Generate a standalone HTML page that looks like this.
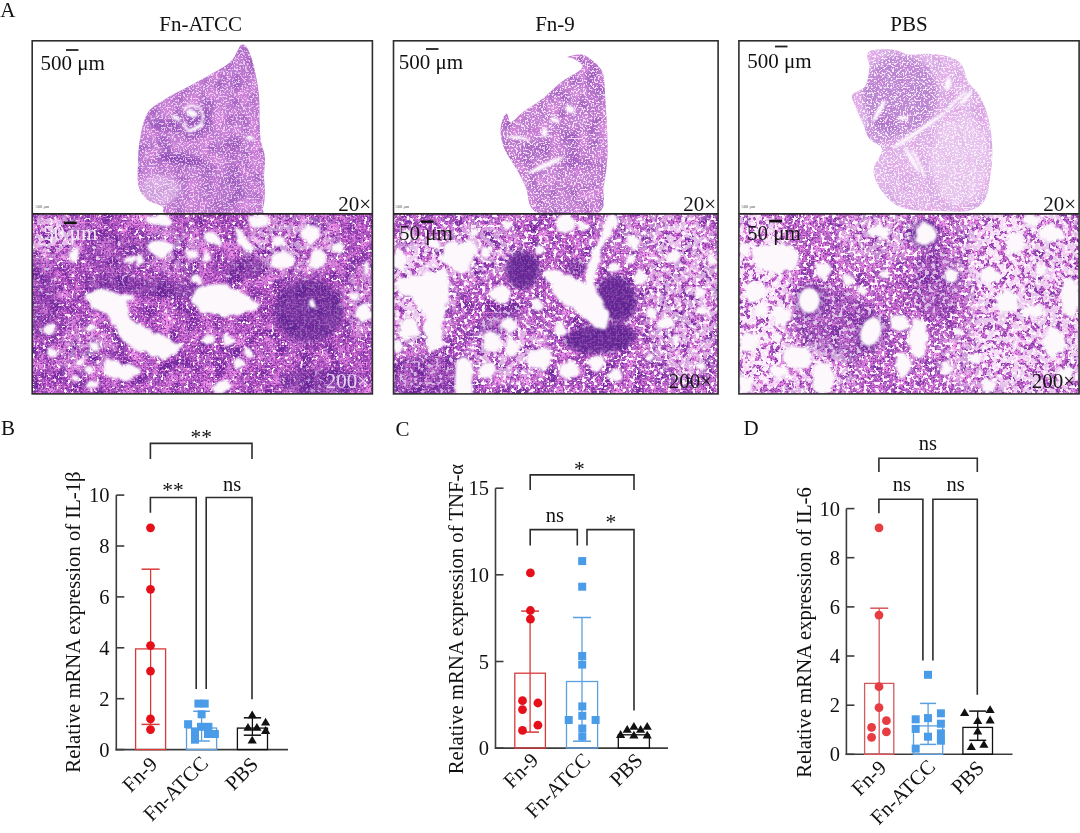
<!DOCTYPE html><html><head><meta charset="utf-8"><style>html,body{margin:0;padding:0;background:#fff;width:1080px;height:833px;overflow:hidden}svg{display:block}</style></head><body><svg width="1080" height="833" viewBox="0 0 1080 833" font-family='"Liberation Serif", serif'>
<rect width="1080" height="833" fill="#fff"/>
<defs>
<filter id="spkw" x="0" y="0" width="100%" height="100%" color-interpolation-filters="sRGB">
 <feTurbulence type="fractalNoise" baseFrequency="0.28" numOctaves="2" seed="3" result="n"/>
 <feColorMatrix in="n" type="matrix" values="0 0 0 0 1  0 0 0 0 0.97  0 0 0 0 1  24 0 0 0 -13.6"/>
</filter>
<filter id="spkl" x="0" y="0" width="100%" height="100%" color-interpolation-filters="sRGB">
 <feTurbulence type="fractalNoise" baseFrequency="0.55" numOctaves="2" seed="5" result="n"/>
 <feColorMatrix in="n" type="matrix" values="0 0 0 0 1  0 0 0 0 0.97  0 0 0 0 1  10 0 0 0 -5.2"/>
</filter>
<filter id="spkp" x="0" y="0" width="100%" height="100%" color-interpolation-filters="sRGB">
 <feTurbulence type="fractalNoise" baseFrequency="0.5" numOctaves="1" seed="11" result="n"/>
 <feColorMatrix in="n" type="matrix" values="0 0 0 0 0.96  0 0 0 0 0.56  0 0 0 0 0.9  8 0 0 0 -4.0"/>
</filter>
<filter id="spkd" x="0" y="0" width="100%" height="100%" color-interpolation-filters="sRGB">
 <feTurbulence type="fractalNoise" baseFrequency="0.6" numOctaves="1" seed="7" result="n"/>
 <feColorMatrix in="n" type="matrix" values="0 0 0 0 0.36  0 0 0 0 0.12  0 0 0 0 0.58  8 0 0 0 -4.2"/>
</filter>
<filter id="spkw2" x="0" y="0" width="100%" height="100%" color-interpolation-filters="sRGB">
 <feTurbulence type="fractalNoise" baseFrequency="0.16" numOctaves="2" seed="21" result="n"/>
 <feColorMatrix in="n" type="matrix" values="0 0 0 0 1  0 0 0 0 0.97  0 0 0 0 1  24 0 0 0 -11.3"/>
</filter>
<filter id="bl2" x="-50%" y="-50%" width="200%" height="200%"><feGaussianBlur stdDeviation="2.5"/></filter>
<filter id="disp" x="-10%" y="-10%" width="120%" height="120%" color-interpolation-filters="sRGB">
 <feTurbulence type="fractalNoise" baseFrequency="0.09" numOctaves="2" seed="4" result="t"/>
 <feDisplacementMap in="SourceGraphic" in2="t" scale="9" xChannelSelector="R" yChannelSelector="G" result="d"/>
 <feGaussianBlur in="d" stdDeviation="0.8"/>
</filter>
<filter id="blotd" x="0" y="0" width="100%" height="100%" color-interpolation-filters="sRGB">
 <feTurbulence type="fractalNoise" baseFrequency="0.07" numOctaves="2" seed="9" result="n"/>
 <feColorMatrix in="n" type="matrix" values="0 0 0 0 0.40  0 0 0 0 0.14  0 0 0 0 0.60  3.5 0 0 0 -1.55"/>
</filter>
<filter id="blotp" x="0" y="0" width="100%" height="100%" color-interpolation-filters="sRGB">
 <feTurbulence type="fractalNoise" baseFrequency="0.08" numOctaves="2" seed="13" result="n"/>
 <feColorMatrix in="n" type="matrix" values="0 0 0 0 0.94  0 0 0 0 0.58  0 0 0 0 0.92  3.5 0 0 0 -1.6"/>
</filter>
<filter id="spkw_0" x="0" y="0" width="100%" height="100%" color-interpolation-filters="sRGB">
 <feTurbulence type="fractalNoise" baseFrequency="0.28" numOctaves="2" seed="3" result="n"/>
 <feColorMatrix in="n" type="matrix" values="0 0 0 0 1  0 0 0 0 0.97  0 0 0 0 1  24 0 0 0 -15.6"/>
</filter>
<filter id="spkw_1" x="0" y="0" width="100%" height="100%" color-interpolation-filters="sRGB">
 <feTurbulence type="fractalNoise" baseFrequency="0.28" numOctaves="2" seed="3" result="n"/>
 <feColorMatrix in="n" type="matrix" values="0 0 0 0 1  0 0 0 0 0.97  0 0 0 0 1  24 0 0 0 -13.92"/>
</filter>
<filter id="spkw_2" x="0" y="0" width="100%" height="100%" color-interpolation-filters="sRGB">
 <feTurbulence type="fractalNoise" baseFrequency="0.28" numOctaves="2" seed="3" result="n"/>
 <feColorMatrix in="n" type="matrix" values="0 0 0 0 1  0 0 0 0 0.97  0 0 0 0 1  24 0 0 0 -13.56"/>
</filter>
<filter id="soft" x="0" y="0" width="100%" height="100%"><feGaussianBlur stdDeviation="0.6"/></filter>
<filter id="bl1" x="-50%" y="-50%" width="200%" height="200%"><feGaussianBlur stdDeviation="1"/></filter>
<filter id="bl6" x="-50%" y="-50%" width="200%" height="200%"><feGaussianBlur stdDeviation="7"/></filter>
<clipPath id="cl1"><path d="M240.8,45.3 C242.2,44.6 244.1,43.7 246.0,46.3 C247.9,48.9 250.3,53.3 252.4,61.0 C254.5,68.7 257.5,82.0 258.7,92.5 C259.9,103.0 259.3,115.9 259.7,124.0 C260.1,132.1 259.9,135.3 260.8,140.9 C261.7,146.5 264.5,151.8 265.0,157.7 C265.5,163.6 264.0,171.0 264.0,176.6 C264.0,182.2 265.2,186.1 265.0,191.3 C264.8,196.6 264.6,204.2 262.9,208.1 C261.1,211.9 269.6,213.3 254.5,214.4 C239.4,215.5 187.9,215.8 172.5,214.4 C157.1,213.0 166.2,208.4 162.0,206.0 C157.8,203.6 151.2,202.8 147.3,199.7 C143.5,196.5 140.5,192.7 138.9,187.1 C137.3,181.5 137.7,174.1 137.9,166.0 C138.1,157.9 138.4,147.6 140.0,138.8 C141.6,130.1 143.6,119.8 147.3,113.5 C151.0,107.2 155.7,105.2 162.0,101.0 C168.3,96.8 177.4,92.5 185.1,88.3 C192.8,84.1 200.9,79.9 208.3,75.7 C215.7,71.5 224.4,67.3 229.3,63.1 C234.2,58.9 235.8,53.5 237.7,50.5 C239.6,47.5 239.4,46.0 240.8,45.3 Z"/></clipPath>
<clipPath id="cl2"><path d="M567.7,56.8 C569.1,56.1 578.3,54.0 582.5,54.7 C586.7,55.4 590.2,58.9 593.0,61.0 C595.8,63.1 597.5,64.8 599.3,67.3 C601.0,69.8 602.5,69.8 603.5,75.7 C604.5,81.7 604.9,91.5 605.6,103.0 C606.3,114.5 607.5,134.5 607.7,145.0 C607.9,155.5 607.3,159.0 606.6,166.0 C605.9,173.0 605.1,179.2 603.5,187.0 C601.9,194.8 608.1,208.7 597.2,213.0 C586.3,217.3 550.2,217.3 538.3,213.0 C526.4,208.7 529.2,194.1 525.7,187.0 C522.2,179.9 520.8,176.6 517.3,170.3 C513.8,164.0 507.5,155.6 504.7,149.3 C501.9,143.0 500.9,137.4 500.5,132.5 C500.1,127.6 501.6,123.0 502.6,119.8 C503.7,116.6 505.4,113.1 506.8,113.5 C508.2,113.9 508.2,122.3 511.0,122.0 C513.8,121.7 518.4,115.3 523.6,111.4 C528.9,107.5 536.2,103.7 542.5,98.8 C548.8,93.9 555.4,86.5 561.4,82.0 C567.4,77.5 574.8,74.3 578.3,71.5 C581.8,68.7 583.2,67.3 582.5,65.2 C581.8,63.1 576.5,60.3 574.0,58.9 C571.5,57.5 566.3,57.5 567.7,56.8 Z"/></clipPath>
<clipPath id="cl3"><path d="M871.5,50.5 C875.7,49.3 886.2,48.8 892.5,49.5 C898.8,50.2 903.3,54.0 909.3,54.7 C915.3,55.4 921.6,53.4 928.3,53.7 C935.0,54.1 943.7,54.9 949.3,56.8 C954.9,58.7 958.8,61.0 961.9,65.2 C965.0,69.4 965.4,77.1 968.2,82.0 C971.0,86.9 975.6,89.3 978.7,94.6 C981.9,99.8 985.0,106.8 987.1,113.5 C989.2,120.2 990.4,127.6 991.3,134.6 C992.2,141.6 992.5,148.6 992.3,155.6 C992.1,162.6 991.4,169.2 990.2,176.6 C989.0,183.9 988.3,194.1 985.0,199.7 C981.7,205.3 976.9,208.3 970.3,210.2 C963.6,212.1 956.3,211.7 945.1,211.3 C933.9,211.0 913.5,211.4 903.0,208.1 C892.5,204.8 886.9,197.6 882.0,191.3 C877.1,185.0 873.6,177.3 873.6,170.3 C873.6,163.3 882.7,154.6 882.0,149.3 C881.3,144.1 872.5,143.0 869.4,138.8 C866.2,134.6 865.5,129.6 863.1,124.0 C860.7,118.4 856.5,110.0 854.7,105.1 C853.0,100.2 850.9,97.8 852.6,94.6 C854.4,91.4 862.4,90.8 865.2,86.2 C868.0,81.7 869.0,72.2 869.4,67.3 C869.8,62.4 866.9,59.6 867.3,56.8 C867.6,54.0 867.3,51.7 871.5,50.5 Z"/></clipPath>
<clipPath id="h1"><rect x="32" y="214" width="341" height="180"/></clipPath>
<clipPath id="h2"><rect x="393" y="214" width="325" height="180"/></clipPath>
<clipPath id="h3"><rect x="739" y="214" width="340" height="180"/></clipPath>
</defs>
<g clip-path="url(#cl1)"><rect x="0" y="40" width="1080" height="175" fill="#c27ed4"/><rect x="0" y="40" width="1080" height="175" filter="url(#blotd)" opacity="0.3"/><rect x="0" y="40" width="1080" height="175" filter="url(#blotp)" opacity="0.45"/><g filter="url(#bl2)"><ellipse cx="181.0" cy="160.0" rx="24" ry="5" transform="rotate(8 181.0 160.0)" fill="#8440b0" opacity="0.85"/><ellipse cx="165.0" cy="126.0" rx="16" ry="7" transform="rotate(10 165.0 126.0)" fill="#8440b0" opacity="0.6"/><ellipse cx="237.0" cy="82.0" rx="6" ry="10" transform="rotate(0 237.0 82.0)" fill="#8440b0" opacity="0.5"/><ellipse cx="198.0" cy="120.0" rx="14" ry="12" transform="rotate(0 198.0 120.0)" fill="#8440b0" opacity="0.6"/><ellipse cx="225.0" cy="185.0" rx="25" ry="18" transform="rotate(0 225.0 185.0)" fill="#8440b0" opacity="0.2"/><ellipse cx="232.0" cy="148.0" rx="8" ry="12" transform="rotate(0 232.0 148.0)" fill="#8440b0" opacity="0.4"/><ellipse cx="160.0" cy="190.0" rx="20" ry="15" transform="rotate(0 160.0 190.0)" fill="#f0d8f4" opacity="0.5"/></g><rect x="0" y="40" width="1080" height="175" filter="url(#spkl)" opacity="0.65"/><g filter="url(#bl1)"><ellipse cx="192.0" cy="113.5" rx="6" ry="3.5" transform="rotate(20 192.0 113.5)" fill="#fdf8fd" opacity="1"/><ellipse cx="196.0" cy="128.0" rx="9" ry="2" transform="rotate(-25 196.0 128.0)" fill="#fdf8fd" opacity="1"/><ellipse cx="176.0" cy="118.0" rx="5" ry="2" transform="rotate(30 176.0 118.0)" fill="#fdf8fd" opacity="1"/><ellipse cx="250.0" cy="138.0" rx="4" ry="2" transform="rotate(0 250.0 138.0)" fill="#fdf8fd" opacity="1"/><path d="M184,110 C188,104 198,104 202,112 C205,120 200,128 192,130 C186,131 183,126 186,122" fill="none" stroke="#fdf8fd" stroke-width="2.2"/></g></g>
<g clip-path="url(#cl2)"><rect x="0" y="40" width="1080" height="175" fill="#c482d4"/><rect x="0" y="40" width="1080" height="175" filter="url(#blotd)" opacity="0.3"/><rect x="0" y="40" width="1080" height="175" filter="url(#blotp)" opacity="0.45"/><g filter="url(#bl2)"><ellipse cx="574.0" cy="150.0" rx="6" ry="20" transform="rotate(0 574.0 150.0)" fill="#8440b0" opacity="0.4"/><ellipse cx="535.0" cy="150.0" rx="20" ry="8" transform="rotate(-20 535.0 150.0)" fill="#8440b0" opacity="0.3"/><ellipse cx="595.0" cy="90.0" rx="8" ry="20" transform="rotate(0 595.0 90.0)" fill="#8440b0" opacity="0.3"/></g><rect x="0" y="40" width="1080" height="175" filter="url(#spkl)" opacity="0.8"/><g filter="url(#bl1)"><ellipse cx="546.0" cy="165.0" rx="20" ry="2.5" transform="rotate(-25 546.0 165.0)" fill="#fdf8fd" opacity="1"/><ellipse cx="569.8" cy="109.3" rx="5" ry="3.5" transform="rotate(30 569.8 109.3)" fill="#fdf8fd" opacity="1"/><ellipse cx="544.6" cy="132.5" rx="3" ry="5" transform="rotate(0 544.6 132.5)" fill="#fdf8fd" opacity="1"/><ellipse cx="555.0" cy="120.0" rx="5" ry="2.5" transform="rotate(20 555.0 120.0)" fill="#fdf8fd" opacity="1"/><ellipse cx="517.0" cy="137.5" rx="9" ry="1.8" transform="rotate(5 517.0 137.5)" fill="#fdf8fd" opacity="1"/><path d="M506,137 C515,136 522,139 530,140" fill="none" stroke="#fdf8fd" stroke-width="1.8"/></g></g>
<g clip-path="url(#cl3)"><rect x="0" y="40" width="1080" height="175" fill="#e0b6ea"/><rect x="0" y="40" width="1080" height="175" filter="url(#blotd)" opacity="0.08"/><rect x="0" y="40" width="1080" height="175" filter="url(#blotp)" opacity="0.3"/><g filter="url(#bl2)"><ellipse cx="900.0" cy="95.0" rx="38" ry="40" transform="rotate(0 900.0 95.0)" fill="#8440b0" opacity="0.35"/><ellipse cx="880.0" cy="130.0" rx="15" ry="15" transform="rotate(0 880.0 130.0)" fill="#8440b0" opacity="0.25"/><ellipse cx="960.0" cy="160.0" rx="30" ry="45" transform="rotate(0 960.0 160.0)" fill="#f0d8f4" opacity="0.5"/></g><rect x="0" y="40" width="1080" height="175" filter="url(#spkl)" opacity="0.85"/><g filter="url(#bl1)"><ellipse cx="920.0" cy="130.0" rx="28" ry="2" transform="rotate(-35 920.0 130.0)" fill="#fdf8fd" opacity="1"/><ellipse cx="912.0" cy="160.0" rx="15" ry="2" transform="rotate(60 912.0 160.0)" fill="#fdf8fd" opacity="1"/><ellipse cx="948.0" cy="84.0" rx="3" ry="7" transform="rotate(10 948.0 84.0)" fill="#fdf8fd" opacity="1"/><ellipse cx="879.0" cy="111.0" rx="2.5" ry="13" transform="rotate(30 879.0 111.0)" fill="#fdf8fd" opacity="1"/><ellipse cx="903.0" cy="118.0" rx="6" ry="2" transform="rotate(0 903.0 118.0)" fill="#fdf8fd" opacity="1"/><ellipse cx="966.0" cy="98.0" rx="10" ry="2" transform="rotate(-50 966.0 98.0)" fill="#fdf8fd" opacity="1"/><path d="M893,148 C905,138 925,128 945,113 M912,150 C918,160 922,168 925,178 M946,112 C952,104 958,98 966,92" fill="none" stroke="#fdf8fd" stroke-width="2.4"/></g></g>
<mask id="wm0" maskUnits="userSpaceOnUse" x="32" y="214" width="341" height="180"><g filter="url(#bl6)"><ellipse cx="50" cy="235" rx="28" ry="20" fill="#fff" opacity="0.7"/><ellipse cx="290" cy="245" rx="50" ry="28" fill="#fff" opacity="0.5"/><ellipse cx="175" cy="250" rx="30" ry="20" fill="#fff" opacity="0.4"/><ellipse cx="85" cy="350" rx="28" ry="24" fill="#fff" opacity="0.35"/><ellipse cx="360" cy="300" rx="18" ry="35" fill="#fff" opacity="0.4"/></g></mask>
<g clip-path="url(#h1)"><g filter="url(#soft)"><rect x="32" y="214" width="341" height="180" fill="#b256c2"/><rect x="32" y="214" width="341" height="180" filter="url(#blotp)"/><rect x="32" y="214" width="341" height="180" filter="url(#blotd)" opacity="0.8"/><rect x="32" y="214" width="341" height="180" filter="url(#spkp)" opacity="0.85"/><rect x="32" y="214" width="341" height="180" filter="url(#spkd)" opacity="0.7"/><rect x="32" y="214" width="341" height="180" filter="url(#spkw_0)"/><rect x="32" y="214" width="341" height="180" filter="url(#spkw2)" mask="url(#wm0)"/><g filter="url(#bl2)"><ellipse cx="308.0" cy="311.0" rx="35" ry="32" transform="rotate(0 308.0 311.0)" fill="#5c2490" opacity="0.7"/><ellipse cx="245.0" cy="268.0" rx="22" ry="10" transform="rotate(-10 245.0 268.0)" fill="#5c2490" opacity="0.5"/><ellipse cx="150.0" cy="287.0" rx="70" ry="9" transform="rotate(5 150.0 287.0)" fill="#5c2490" opacity="0.45"/><ellipse cx="320.0" cy="382.0" rx="40" ry="14" transform="rotate(0 320.0 382.0)" fill="#5c2490" opacity="0.45"/><ellipse cx="115.0" cy="255.0" rx="30" ry="22" transform="rotate(0 115.0 255.0)" fill="#5c2490" opacity="0.2"/><ellipse cx="40.0" cy="300.0" rx="20" ry="40" transform="rotate(0 40.0 300.0)" fill="#5c2490" opacity="0.3"/></g><rect x="32" y="214" width="341" height="180" filter="url(#spkp)" opacity="0.25"/><g filter="url(#disp)"><path d="M86.0,294.0 C87.6,292.1 98.9,288.6 103.3,288.5 C107.7,288.4 119.1,291.9 122.7,292.9 C126.3,293.9 133.0,295.8 133.5,297.2 C134.0,298.6 127.5,302.5 127.0,304.7 C126.5,306.9 127.1,312.6 129.2,315.5 C131.3,318.4 139.9,325.8 144.3,328.5 C148.7,331.2 161.6,336.1 166.0,338.2 C170.4,340.3 179.7,343.9 181.0,345.8 C182.3,347.7 179.3,352.9 176.7,354.4 C174.1,355.9 163.6,359.0 159.5,358.7 C155.4,358.4 146.4,354.4 142.2,352.3 C138.0,350.2 128.3,344.6 124.9,341.5 C121.5,338.4 116.7,329.7 114.1,326.3 C111.5,322.9 106.2,316.0 103.3,313.4 C100.4,310.8 92.4,307.0 90.3,304.7 C88.2,302.4 84.4,295.9 86.0,294.0 Z" fill="#fcf8fc"/><path d="M192.0,298.0 C192.6,295.2 197.2,286.8 200.0,285.0 C202.8,283.2 210.9,282.4 215.0,283.0 C219.1,283.6 229.3,287.9 234.0,290.0 C238.7,292.1 250.6,298.5 254.0,300.5 C257.4,302.5 263.1,305.5 262.0,307.0 C260.9,308.5 249.6,312.0 245.0,313.0 C240.4,314.0 228.7,315.6 224.0,315.6 C219.3,315.6 209.5,314.3 206.0,313.4 C202.5,312.5 196.7,309.8 195.0,308.0 C193.3,306.2 191.4,300.8 192.0,298.0 Z" fill="#fcf8fc"/><path d="M104.0,364.0 C105.1,362.3 112.6,360.8 115.0,361.0 C117.4,361.2 121.7,365.5 124.0,366.0 C126.3,366.5 132.1,364.4 134.0,365.0 C135.9,365.6 140.2,369.4 140.0,371.0 C139.8,372.6 134.6,377.0 132.0,378.0 C129.4,379.0 121.1,379.4 118.0,379.0 C114.9,378.6 107.7,376.8 106.0,375.0 C104.3,373.2 102.9,365.7 104.0,364.0 Z" fill="#fcf8fc"/><ellipse cx="159.5" cy="248.6" rx="13" ry="8" transform="rotate(10 159.5 248.6)" fill="#fcf8fc" opacity="1"/><ellipse cx="160.0" cy="221.0" rx="13" ry="7" transform="rotate(0 160.0 221.0)" fill="#fcf8fc" opacity="1"/><ellipse cx="131.4" cy="259.4" rx="5" ry="4" transform="rotate(0 131.4 259.4)" fill="#fcf8fc" opacity="1"/><ellipse cx="140.0" cy="260.4" rx="4" ry="4" transform="rotate(0 140.0 260.4)" fill="#fcf8fc" opacity="1"/><ellipse cx="191.9" cy="252.9" rx="7" ry="5" transform="rotate(0 191.9 252.9)" fill="#fcf8fc" opacity="1"/><ellipse cx="196.0" cy="279.0" rx="5" ry="5" transform="rotate(0 196.0 279.0)" fill="#fcf8fc" opacity="1"/><ellipse cx="200.0" cy="296.0" rx="5" ry="6" transform="rotate(0 200.0 296.0)" fill="#fcf8fc" opacity="1"/><ellipse cx="48.2" cy="328.5" rx="6" ry="6" transform="rotate(0 48.2 328.5)" fill="#fcf8fc" opacity="1"/><ellipse cx="52.5" cy="352.3" rx="5" ry="5" transform="rotate(0 52.5 352.3)" fill="#fcf8fc" opacity="1"/><ellipse cx="92.5" cy="328.5" rx="5" ry="4" transform="rotate(0 92.5 328.5)" fill="#fcf8fc" opacity="1"/><ellipse cx="93.6" cy="345.8" rx="5" ry="4" transform="rotate(0 93.6 345.8)" fill="#fcf8fc" opacity="1"/><ellipse cx="81.7" cy="363.0" rx="5" ry="4" transform="rotate(0 81.7 363.0)" fill="#fcf8fc" opacity="1"/><ellipse cx="90.3" cy="369.5" rx="4" ry="4" transform="rotate(0 90.3 369.5)" fill="#fcf8fc" opacity="1"/><ellipse cx="75.2" cy="378.2" rx="4" ry="4" transform="rotate(0 75.2 378.2)" fill="#fcf8fc" opacity="1"/><ellipse cx="92.5" cy="384.7" rx="6" ry="5" transform="rotate(0 92.5 384.7)" fill="#fcf8fc" opacity="1"/><ellipse cx="75.0" cy="254.0" rx="4" ry="7" transform="rotate(30 75.0 254.0)" fill="#fcf8fc" opacity="1"/><ellipse cx="213.0" cy="239.0" rx="11" ry="5" transform="rotate(40 213.0 239.0)" fill="#fcf8fc" opacity="1"/><ellipse cx="243.0" cy="241.0" rx="5" ry="13" transform="rotate(-30 243.0 241.0)" fill="#fcf8fc" opacity="1"/><ellipse cx="259.0" cy="221.0" rx="12" ry="6" transform="rotate(0 259.0 221.0)" fill="#fcf8fc" opacity="1"/><ellipse cx="283.0" cy="261.0" rx="12" ry="9" transform="rotate(0 283.0 261.0)" fill="#fcf8fc" opacity="1"/><ellipse cx="310.0" cy="234.5" rx="9" ry="10" transform="rotate(0 310.0 234.5)" fill="#fcf8fc" opacity="1"/><ellipse cx="317.7" cy="259.3" rx="8" ry="11" transform="rotate(30 317.7 259.3)" fill="#fcf8fc" opacity="1"/><ellipse cx="208.0" cy="339.0" rx="6" ry="5" transform="rotate(0 208.0 339.0)" fill="#fcf8fc" opacity="1"/><ellipse cx="228.0" cy="340.5" rx="6" ry="5" transform="rotate(0 228.0 340.5)" fill="#fcf8fc" opacity="1"/><ellipse cx="249.6" cy="353.4" rx="5" ry="5" transform="rotate(0 249.6 353.4)" fill="#fcf8fc" opacity="1"/><ellipse cx="238.7" cy="363.2" rx="5" ry="5" transform="rotate(0 238.7 363.2)" fill="#fcf8fc" opacity="1"/><ellipse cx="221.5" cy="387.0" rx="10" ry="6" transform="rotate(0 221.5 387.0)" fill="#fcf8fc" opacity="1"/><ellipse cx="353.3" cy="297.2" rx="5" ry="4" transform="rotate(0 353.3 297.2)" fill="#fcf8fc" opacity="1"/><ellipse cx="364.0" cy="312.4" rx="8" ry="8" transform="rotate(0 364.0 312.4)" fill="#fcf8fc" opacity="1"/><ellipse cx="338.2" cy="247.5" rx="6" ry="5" transform="rotate(0 338.2 247.5)" fill="#fcf8fc" opacity="1"/><ellipse cx="278.7" cy="242.0" rx="5" ry="4" transform="rotate(0 278.7 242.0)" fill="#fcf8fc" opacity="1"/><ellipse cx="206.0" cy="257.0" rx="4" ry="4" transform="rotate(0 206.0 257.0)" fill="#fcf8fc" opacity="1"/><ellipse cx="312.2" cy="302.6" rx="4" ry="3" transform="rotate(0 312.2 302.6)" fill="#fcf8fc" opacity="1"/><ellipse cx="366.0" cy="268.0" rx="4" ry="6" transform="rotate(0 366.0 268.0)" fill="#fcf8fc" opacity="1"/></g><g filter="url(#bl1)"></g></g></g>
<mask id="wm1" maskUnits="userSpaceOnUse" x="393" y="214" width="325" height="180"><g filter="url(#bl6)"><ellipse cx="418" cy="292" rx="36" ry="55" fill="#fff" opacity="0.75"/><ellipse cx="685" cy="300" rx="42" ry="85" fill="#fff" opacity="0.55"/><ellipse cx="480" cy="250" rx="40" ry="30" fill="#fff" opacity="0.5"/><ellipse cx="510" cy="350" rx="40" ry="30" fill="#fff" opacity="0.6"/><ellipse cx="650" cy="230" rx="60" ry="20" fill="#fff" opacity="0.4"/></g></mask>
<g clip-path="url(#h2)"><g filter="url(#soft)"><rect x="393" y="214" width="325" height="180" fill="#b85ec6"/><rect x="393" y="214" width="325" height="180" filter="url(#blotp)"/><rect x="393" y="214" width="325" height="180" filter="url(#blotd)" opacity="0.8"/><rect x="393" y="214" width="325" height="180" filter="url(#spkp)" opacity="0.85"/><rect x="393" y="214" width="325" height="180" filter="url(#spkd)" opacity="0.65"/><rect x="393" y="214" width="325" height="180" filter="url(#spkw_1)"/><rect x="393" y="214" width="325" height="180" filter="url(#spkw2)" mask="url(#wm1)"/><g filter="url(#bl2)"><ellipse cx="522.7" cy="270.2" rx="17" ry="19" transform="rotate(0 522.7 270.2)" fill="#5c2490" opacity="0.9"/><ellipse cx="616.6" cy="298.3" rx="19" ry="24" transform="rotate(-20 616.6 298.3)" fill="#5c2490" opacity="0.9"/><ellipse cx="600.4" cy="338.3" rx="36" ry="15" transform="rotate(-5 600.4 338.3)" fill="#5c2490" opacity="0.9"/><ellipse cx="575.5" cy="268.0" rx="10" ry="10" transform="rotate(0 575.5 268.0)" fill="#5c2490" opacity="0.5"/><ellipse cx="428.0" cy="378.0" rx="42" ry="24" transform="rotate(0 428.0 378.0)" fill="#5c2490" opacity="0.3"/><ellipse cx="500.0" cy="320.0" rx="25" ry="12" transform="rotate(-30 500.0 320.0)" fill="#5c2490" opacity="0.3"/></g><rect x="393" y="214" width="325" height="180" filter="url(#spkp)" opacity="0.25"/><g filter="url(#disp)"><path d="M444.9,244.3 C448.5,242.5 469.4,240.5 473.0,242.0 C476.6,243.5 476.1,253.6 475.1,257.2 C474.1,260.8 467.1,271.1 464.3,272.4 C461.5,273.7 454.0,269.8 451.4,268.0 C448.8,266.2 443.5,260.0 442.7,257.2 C441.9,254.4 441.3,246.1 444.9,244.3 Z" fill="#fcf8fc"/><path d="M397.3,278.9 C398.9,276.6 409.2,275.5 414.6,274.5 C420.0,273.5 438.3,268.9 442.7,270.2 C447.1,271.5 450.9,281.1 451.4,285.3 C451.9,289.5 448.3,299.9 447.0,304.8 C445.7,309.7 440.9,321.7 440.6,326.4 C440.3,331.1 445.9,341.1 444.9,343.7 C443.9,346.3 434.2,348.8 431.9,348.0 C429.6,347.2 426.4,340.8 425.4,337.2 C424.4,333.6 424.3,322.2 423.3,317.8 C422.3,313.4 419.4,303.4 416.8,300.5 C414.2,297.6 403.9,296.6 401.6,294.0 C399.3,291.4 395.7,281.2 397.3,278.9 Z" fill="#fcf8fc"/><path d="M543.0,272.0 C543.2,269.4 552.0,269.9 555.0,270.2 C558.0,270.5 564.6,272.9 568.0,274.5 C571.4,276.1 580.8,284.2 583.1,283.2 C585.4,282.2 585.8,270.6 587.4,265.9 C589.0,261.2 594.0,249.0 596.1,244.3 C598.2,239.6 602.9,230.6 604.7,227.0 C606.5,223.4 609.6,214.8 611.2,214.0 C612.8,213.2 617.7,218.2 617.7,220.5 C617.7,222.8 613.0,230.4 611.2,233.5 C609.4,236.6 604.2,242.3 602.6,246.4 C601.0,250.5 599.0,263.1 598.2,268.0 C597.4,272.9 595.3,283.1 596.1,287.5 C596.9,291.9 603.2,301.2 604.7,304.8 C606.2,308.4 608.7,315.2 609.0,317.8 C609.3,320.4 608.4,325.4 606.9,326.4 C605.4,327.4 599.2,327.7 596.1,326.4 C593.0,325.1 584.6,318.2 581.0,315.6 C577.4,313.0 569.2,307.6 565.8,304.8 C562.4,302.0 555.7,295.9 553.0,292.0 C550.3,288.1 542.8,274.6 543.0,272.0 Z" fill="#fcf8fc"/><path d="M457.0,362.0 C458.7,357.9 468.2,356.2 470.0,360.0 C471.8,363.8 473.7,389.9 472.0,394.0 C470.3,398.1 457.8,397.8 456.0,394.0 C454.2,390.2 455.3,366.1 457.0,362.0 Z" fill="#fcf8fc"/><ellipse cx="399.0" cy="260.0" rx="7" ry="10" transform="rotate(0 399.0 260.0)" fill="#fcf8fc" opacity="1"/><ellipse cx="409.0" cy="328.6" rx="10" ry="10" transform="rotate(0 409.0 328.6)" fill="#fcf8fc" opacity="1"/><ellipse cx="397.0" cy="346.0" rx="6" ry="7" transform="rotate(0 397.0 346.0)" fill="#fcf8fc" opacity="1"/><ellipse cx="434.0" cy="342.6" rx="8" ry="8" transform="rotate(0 434.0 342.6)" fill="#fcf8fc" opacity="1"/><ellipse cx="500.0" cy="294.0" rx="10" ry="9" transform="rotate(0 500.0 294.0)" fill="#fcf8fc" opacity="1"/><ellipse cx="537.8" cy="304.8" rx="7" ry="6" transform="rotate(0 537.8 304.8)" fill="#fcf8fc" opacity="1"/><ellipse cx="509.7" cy="325.3" rx="8" ry="7" transform="rotate(0 509.7 325.3)" fill="#fcf8fc" opacity="1"/><ellipse cx="492.4" cy="341.5" rx="9" ry="11" transform="rotate(0 492.4 341.5)" fill="#fcf8fc" opacity="1"/><ellipse cx="511.9" cy="348.0" rx="7" ry="9" transform="rotate(0 511.9 348.0)" fill="#fcf8fc" opacity="1"/><ellipse cx="540.0" cy="358.8" rx="13" ry="11" transform="rotate(0 540.0 358.8)" fill="#fcf8fc" opacity="1"/><ellipse cx="488.0" cy="369.6" rx="9" ry="8" transform="rotate(0 488.0 369.6)" fill="#fcf8fc" opacity="1"/><ellipse cx="540.0" cy="248.6" rx="5" ry="5" transform="rotate(0 540.0 248.6)" fill="#fcf8fc" opacity="1"/><ellipse cx="433.0" cy="243.2" rx="6" ry="6" transform="rotate(0 433.0 243.2)" fill="#fcf8fc" opacity="1"/><ellipse cx="475.1" cy="232.4" rx="5" ry="5" transform="rotate(0 475.1 232.4)" fill="#fcf8fc" opacity="1"/><ellipse cx="506.5" cy="225.9" rx="5" ry="5" transform="rotate(0 506.5 225.9)" fill="#fcf8fc" opacity="1"/><ellipse cx="566.0" cy="224.0" rx="10" ry="9" transform="rotate(0 566.0 224.0)" fill="#fcf8fc" opacity="1"/><ellipse cx="582.0" cy="227.0" rx="5" ry="4" transform="rotate(0 582.0 227.0)" fill="#fcf8fc" opacity="1"/><ellipse cx="634.0" cy="242.0" rx="7" ry="6" transform="rotate(0 634.0 242.0)" fill="#fcf8fc" opacity="1"/><ellipse cx="614.4" cy="269.0" rx="6" ry="5" transform="rotate(0 614.4 269.0)" fill="#fcf8fc" opacity="1"/><ellipse cx="640.4" cy="277.8" rx="7" ry="7" transform="rotate(0 640.4 277.8)" fill="#fcf8fc" opacity="1"/><ellipse cx="631.5" cy="258.5" rx="5" ry="5" transform="rotate(0 631.5 258.5)" fill="#fcf8fc" opacity="1"/><ellipse cx="673.9" cy="257.2" rx="7" ry="5" transform="rotate(0 673.9 257.2)" fill="#fcf8fc" opacity="1"/><ellipse cx="651.2" cy="312.4" rx="5" ry="5" transform="rotate(0 651.2 312.4)" fill="#fcf8fc" opacity="1"/><ellipse cx="666.3" cy="323.2" rx="8" ry="6" transform="rotate(0 666.3 323.2)" fill="#fcf8fc" opacity="1"/><ellipse cx="699.8" cy="292.9" rx="7" ry="6" transform="rotate(0 699.8 292.9)" fill="#fcf8fc" opacity="1"/><ellipse cx="702.0" cy="310.2" rx="5" ry="5" transform="rotate(0 702.0 310.2)" fill="#fcf8fc" opacity="1"/><ellipse cx="712.0" cy="260.4" rx="6" ry="6" transform="rotate(0 712.0 260.4)" fill="#fcf8fc" opacity="1"/><ellipse cx="561.0" cy="330.0" rx="7" ry="7" transform="rotate(0 561.0 330.0)" fill="#fcf8fc" opacity="1"/><ellipse cx="569.0" cy="369.6" rx="10" ry="9" transform="rotate(0 569.0 369.6)" fill="#fcf8fc" opacity="1"/><ellipse cx="597.2" cy="363.2" rx="8" ry="7" transform="rotate(0 597.2 363.2)" fill="#fcf8fc" opacity="1"/><ellipse cx="615.5" cy="376.0" rx="7" ry="6" transform="rotate(0 615.5 376.0)" fill="#fcf8fc" opacity="1"/><ellipse cx="650.1" cy="356.7" rx="4" ry="4" transform="rotate(0 650.1 356.7)" fill="#fcf8fc" opacity="1"/><ellipse cx="700.9" cy="366.4" rx="7" ry="5" transform="rotate(0 700.9 366.4)" fill="#fcf8fc" opacity="1"/><ellipse cx="676.0" cy="339.4" rx="4" ry="4" transform="rotate(0 676.0 339.4)" fill="#fcf8fc" opacity="1"/><ellipse cx="408.0" cy="236.0" rx="6" ry="6" transform="rotate(0 408.0 236.0)" fill="#fcf8fc" opacity="1"/><ellipse cx="486.0" cy="252.0" rx="5" ry="5" transform="rotate(0 486.0 252.0)" fill="#fcf8fc" opacity="1"/></g><g filter="url(#bl1)"></g></g></g>
<mask id="wm2" maskUnits="userSpaceOnUse" x="739" y="214" width="340" height="180"><g filter="url(#bl6)"><ellipse cx="757" cy="300" rx="34" ry="95" fill="#fff" opacity="0.9"/><ellipse cx="1035" cy="300" rx="65" ry="110" fill="#fff" opacity="0.75"/><ellipse cx="880" cy="235" rx="45" ry="25" fill="#fff" opacity="0.5"/><ellipse cx="805" cy="370" rx="50" ry="28" fill="#fff" opacity="0.7"/><ellipse cx="990" cy="250" rx="35" ry="45" fill="#fff" opacity="0.6"/><ellipse cx="975" cy="360" rx="40" ry="30" fill="#fff" opacity="0.5"/></g></mask>
<g clip-path="url(#h3)"><g filter="url(#soft)"><rect x="739" y="214" width="340" height="180" fill="#bc64c8"/><rect x="739" y="214" width="340" height="180" filter="url(#blotp)"/><rect x="739" y="214" width="340" height="180" filter="url(#blotd)" opacity="0.55"/><rect x="739" y="214" width="340" height="180" filter="url(#spkp)" opacity="0.8"/><rect x="739" y="214" width="340" height="180" filter="url(#spkd)" opacity="0.7"/><rect x="739" y="214" width="340" height="180" filter="url(#spkw_2)"/><rect x="739" y="214" width="340" height="180" filter="url(#spkw2)" mask="url(#wm2)"/><g filter="url(#bl2)"><ellipse cx="836.0" cy="322.0" rx="45" ry="35" transform="rotate(35 836.0 322.0)" fill="#5c2490" opacity="0.22"/><ellipse cx="936.0" cy="284.0" rx="24" ry="36" transform="rotate(0 936.0 284.0)" fill="#5c2490" opacity="0.25"/><ellipse cx="924.0" cy="234.0" rx="15" ry="15" transform="rotate(0 924.0 234.0)" fill="#5c2490" opacity="0.55"/><ellipse cx="810.0" cy="300.0" rx="16" ry="18" transform="rotate(0 810.0 300.0)" fill="#5c2490" opacity="0.4"/><ellipse cx="872.0" cy="332.0" rx="16" ry="20" transform="rotate(20 872.0 332.0)" fill="#5c2490" opacity="0.35"/></g><rect x="739" y="214" width="340" height="180" filter="url(#spkp)" opacity="0.25"/><g filter="url(#disp)"><path d="M751.0,250.0 C752.4,247.4 765.3,244.5 770.0,244.0 C774.7,243.5 786.4,244.3 790.0,246.0 C793.6,247.7 799.5,255.1 800.0,258.0 C800.5,260.9 797.0,268.3 794.0,270.0 C791.0,271.7 779.3,272.5 775.0,272.0 C770.7,271.5 760.9,268.6 758.0,266.0 C755.1,263.4 749.6,252.6 751.0,250.0 Z" fill="#fcf8fc"/><ellipse cx="781.1" cy="315.5" rx="10" ry="9" transform="rotate(0 781.1 315.5)" fill="#fcf8fc" opacity="1"/><ellipse cx="748.7" cy="341.5" rx="10" ry="10" transform="rotate(0 748.7 341.5)" fill="#fcf8fc" opacity="1"/><ellipse cx="797.3" cy="358.7" rx="15" ry="11" transform="rotate(0 797.3 358.7)" fill="#fcf8fc" opacity="1"/><ellipse cx="823.3" cy="378.2" rx="11" ry="14" transform="rotate(0 823.3 378.2)" fill="#fcf8fc" opacity="1"/><ellipse cx="824.3" cy="271.2" rx="8" ry="8" transform="rotate(0 824.3 271.2)" fill="#fcf8fc" opacity="1"/><ellipse cx="848.1" cy="279.9" rx="7" ry="6" transform="rotate(0 848.1 279.9)" fill="#fcf8fc" opacity="1"/><ellipse cx="861.0" cy="290.7" rx="5" ry="5" transform="rotate(0 861.0 290.7)" fill="#fcf8fc" opacity="1"/><ellipse cx="900.0" cy="323.0" rx="9" ry="8" transform="rotate(0 900.0 323.0)" fill="#fcf8fc" opacity="1"/><ellipse cx="903.0" cy="365.0" rx="8" ry="14" transform="rotate(0 903.0 365.0)" fill="#fcf8fc" opacity="1"/><ellipse cx="879.4" cy="232.4" rx="11" ry="7" transform="rotate(0 879.4 232.4)" fill="#fcf8fc" opacity="1"/><ellipse cx="884.5" cy="274.2" rx="6" ry="6" transform="rotate(0 884.5 274.2)" fill="#fcf8fc" opacity="1"/><ellipse cx="743.0" cy="250.0" rx="5" ry="7" transform="rotate(0 743.0 250.0)" fill="#fcf8fc" opacity="1"/><ellipse cx="745.0" cy="385.0" rx="8" ry="9" transform="rotate(0 745.0 385.0)" fill="#fcf8fc" opacity="1"/><ellipse cx="775.7" cy="337.1" rx="5" ry="5" transform="rotate(0 775.7 337.1)" fill="#fcf8fc" opacity="1"/><ellipse cx="777.9" cy="371.7" rx="10" ry="6" transform="rotate(0 777.9 371.7)" fill="#fcf8fc" opacity="1"/><ellipse cx="756.0" cy="292.0" rx="12" ry="10" transform="rotate(0 756.0 292.0)" fill="#fcf8fc" opacity="1"/><ellipse cx="762.0" cy="310.0" rx="8" ry="6" transform="rotate(0 762.0 310.0)" fill="#fcf8fc" opacity="1"/><ellipse cx="926.0" cy="234.0" rx="11" ry="12" transform="rotate(0 926.0 234.0)" fill="#fcf8fc" opacity="1"/><ellipse cx="918.0" cy="339.0" rx="10" ry="20" transform="rotate(0 918.0 339.0)" fill="#fcf8fc" opacity="1"/><ellipse cx="952.2" cy="274.5" rx="7" ry="7" transform="rotate(0 952.2 274.5)" fill="#fcf8fc" opacity="1"/><ellipse cx="991.1" cy="275.6" rx="11" ry="8" transform="rotate(0 991.1 275.6)" fill="#fcf8fc" opacity="1"/><ellipse cx="1006.2" cy="302.6" rx="11" ry="11" transform="rotate(0 1006.2 302.6)" fill="#fcf8fc" opacity="1"/><ellipse cx="1016.0" cy="243.2" rx="10" ry="12" transform="rotate(0 1016.0 243.2)" fill="#fcf8fc" opacity="1"/><ellipse cx="1051.6" cy="234.5" rx="13" ry="8" transform="rotate(0 1051.6 234.5)" fill="#fcf8fc" opacity="1"/><ellipse cx="1070.0" cy="297.0" rx="10" ry="18" transform="rotate(0 1070.0 297.0)" fill="#fcf8fc" opacity="1"/><ellipse cx="1053.7" cy="342.5" rx="11" ry="14" transform="rotate(0 1053.7 342.5)" fill="#fcf8fc" opacity="1"/><ellipse cx="1032.1" cy="311.2" rx="11" ry="7" transform="rotate(0 1032.1 311.2)" fill="#fcf8fc" opacity="1"/><ellipse cx="946.8" cy="368.6" rx="6" ry="6" transform="rotate(0 946.8 368.6)" fill="#fcf8fc" opacity="1"/><ellipse cx="973.8" cy="358.0" rx="6" ry="6" transform="rotate(0 973.8 358.0)" fill="#fcf8fc" opacity="1"/><ellipse cx="959.0" cy="331.0" rx="5" ry="5" transform="rotate(0 959.0 331.0)" fill="#fcf8fc" opacity="1"/><ellipse cx="1030.0" cy="220.0" rx="8" ry="5" transform="rotate(0 1030.0 220.0)" fill="#fcf8fc" opacity="1"/><ellipse cx="1040.0" cy="270.0" rx="6" ry="6" transform="rotate(0 1040.0 270.0)" fill="#fcf8fc" opacity="1"/><ellipse cx="1065.0" cy="375.0" rx="8" ry="8" transform="rotate(0 1065.0 375.0)" fill="#fcf8fc" opacity="1"/><ellipse cx="990.0" cy="385.0" rx="7" ry="6" transform="rotate(0 990.0 385.0)" fill="#fcf8fc" opacity="1"/></g><g filter="url(#bl1)"><ellipse cx="809.2" cy="300.4" rx="10.5" ry="12.5" transform="rotate(0 809.2 300.4)" fill="#fcf8fc" opacity="1"/><ellipse cx="870.8" cy="331.7" rx="10" ry="14.5" transform="rotate(20 870.8 331.7)" fill="#fcf8fc" opacity="1"/></g></g></g>
<rect x="32.2" y="40.8" width="340.2" height="353.1" fill="none" stroke="#2e2e2e" stroke-width="1.6"/>
<line x1="32.2" y1="213.9" x2="372.4" y2="213.9" stroke="#262626" stroke-width="1.7"/>
<rect x="393.5" y="40.8" width="324.6" height="353.1" fill="none" stroke="#2e2e2e" stroke-width="1.6"/>
<line x1="393.5" y1="213.9" x2="718.1" y2="213.9" stroke="#262626" stroke-width="1.7"/>
<rect x="738.9" y="40.8" width="340.2" height="353.1" fill="none" stroke="#2e2e2e" stroke-width="1.6"/>
<line x1="738.9" y1="213.8" x2="1079.1" y2="213.8" stroke="#262626" stroke-width="1.7"/>
<line x1="116.3" y1="495.1" x2="116.3" y2="750.4" stroke="#3c3c3c" stroke-width="1.6"/>
<line x1="115.5" y1="749.6" x2="288.0" y2="749.6" stroke="#3c3c3c" stroke-width="1.6"/>
<line x1="116.3" y1="749.6" x2="124.3" y2="749.6" stroke="#3c3c3c" stroke-width="1.6"/>
<text x="109.5" y="756.6" font-size="20.5" text-anchor="end" fill="#111" >0</text>
<line x1="116.3" y1="698.7" x2="124.3" y2="698.7" stroke="#3c3c3c" stroke-width="1.6"/>
<text x="109.5" y="705.7" font-size="20.5" text-anchor="end" fill="#111" >2</text>
<line x1="116.3" y1="647.8" x2="124.3" y2="647.8" stroke="#3c3c3c" stroke-width="1.6"/>
<text x="109.5" y="654.8" font-size="20.5" text-anchor="end" fill="#111" >4</text>
<line x1="116.3" y1="596.9" x2="124.3" y2="596.9" stroke="#3c3c3c" stroke-width="1.6"/>
<text x="109.5" y="603.9" font-size="20.5" text-anchor="end" fill="#111" >6</text>
<line x1="116.3" y1="546.0" x2="124.3" y2="546.0" stroke="#3c3c3c" stroke-width="1.6"/>
<text x="109.5" y="553.0" font-size="20.5" text-anchor="end" fill="#111" >8</text>
<line x1="116.3" y1="495.1" x2="124.3" y2="495.1" stroke="#3c3c3c" stroke-width="1.6"/>
<text x="109.5" y="502.1" font-size="20.5" text-anchor="end" fill="#111" >10</text>
<text x="80.0" y="622.0" font-size="20.7" text-anchor="middle" fill="#111" transform="rotate(-90 80 622)">Relative mRNA expression of IL-1β</text>
<rect x="135.6" y="648.9" width="30.0" height="100.7" fill="none" stroke="#d83a3a" stroke-width="1.3"/>
<line x1="150.6" y1="569.2" x2="150.6" y2="724.4" stroke="#d83a3a" stroke-width="1.3"/>
<line x1="141.6" y1="569.2" x2="159.6" y2="569.2" stroke="#d83a3a" stroke-width="1.5"/>
<line x1="141.6" y1="724.4" x2="159.6" y2="724.4" stroke="#d83a3a" stroke-width="1.5"/>
<rect x="186.5" y="728.0" width="30.1" height="21.6" fill="none" stroke="#5aa0e0" stroke-width="1.3"/>
<line x1="201.6" y1="711.3" x2="201.6" y2="741.0" stroke="#5aa0e0" stroke-width="1.3"/>
<line x1="193.2" y1="711.3" x2="209.9" y2="711.3" stroke="#5aa0e0" stroke-width="1.5"/>
<line x1="193.2" y1="741.0" x2="209.9" y2="741.0" stroke="#5aa0e0" stroke-width="1.5"/>
<rect x="237.4" y="728.1" width="30.1" height="21.5" fill="none" stroke="#111" stroke-width="1.3"/>
<line x1="252.4" y1="717.8" x2="252.4" y2="735.2" stroke="#111" stroke-width="1.3"/>
<line x1="243.8" y1="717.8" x2="261.1" y2="717.8" stroke="#111" stroke-width="1.5"/>
<line x1="243.8" y1="735.2" x2="261.1" y2="735.2" stroke="#111" stroke-width="1.5"/>
<circle cx="150.5" cy="527.8" r="4.4" fill="#e5101a"/>
<circle cx="150.5" cy="589.3" r="4.4" fill="#e5101a"/>
<circle cx="150.5" cy="645.6" r="4.4" fill="#e5101a"/>
<circle cx="150.5" cy="671.1" r="4.4" fill="#e5101a"/>
<circle cx="150.5" cy="718.9" r="4.4" fill="#e5101a"/>
<circle cx="150.5" cy="729.6" r="4.4" fill="#e5101a"/>
<rect x="194.4" y="699.6" width="8" height="8" fill="#4a9be8"/>
<rect x="200.7" y="699.6" width="8" height="8" fill="#4a9be8"/>
<rect x="197.6" y="710.3" width="8" height="8" fill="#4a9be8"/>
<rect x="184.1" y="720.2" width="8" height="8" fill="#4a9be8"/>
<rect x="191.0" y="728.0" width="8" height="8" fill="#4a9be8"/>
<rect x="191.0" y="735.7" width="8" height="8" fill="#4a9be8"/>
<rect x="197.0" y="722.8" width="8" height="8" fill="#4a9be8"/>
<rect x="204.4" y="722.8" width="8" height="8" fill="#4a9be8"/>
<rect x="204.0" y="730.0" width="8" height="8" fill="#4a9be8"/>
<rect x="210.9" y="730.0" width="8" height="8" fill="#4a9be8"/>
<polygon points="252.2,710.4 256.8,718.2 247.6,718.2" fill="#111"/>
<polygon points="248.0,722.9 252.6,730.7 243.4,730.7" fill="#111"/>
<polygon points="256.9,722.9 261.5,730.7 252.3,730.7" fill="#111"/>
<polygon points="265.6,717.8 270.2,725.6 261.0,725.6" fill="#111"/>
<polygon points="265.6,726.1 270.2,733.9 261.0,733.9" fill="#111"/>
<polygon points="252.2,735.8 256.8,743.6 247.6,743.6" fill="#111"/>
<polyline points="150.4,459.0 150.4,443.4 252.0,443.4 252.0,459.0" fill="none" stroke="#2c2c2c" stroke-width="1.6"/>
<text x="201.2" y="444.0" font-size="21.5" text-anchor="middle" fill="#111" >**</text>
<polyline points="150.4,512.7 150.4,497.5 196.2,497.5 196.2,688.9" fill="none" stroke="#2c2c2c" stroke-width="1.6"/>
<text x="173.0" y="497.0" font-size="21.5" text-anchor="middle" fill="#111" >**</text>
<polyline points="206.2,688.9 206.2,497.5 252.0,497.5 252.0,699.3" fill="none" stroke="#2c2c2c" stroke-width="1.6"/>
<text x="232.0" y="491.0" font-size="20.5" text-anchor="middle" fill="#111" >ns</text>
<text x="158.5" y="765.5" font-size="20.7" text-anchor="end" fill="#111" transform="rotate(-45 158.5 765.5)">Fn-9</text>
<text x="209.5" y="764.5" font-size="20.7" text-anchor="end" fill="#111" transform="rotate(-45 209.5 764.5)">Fn-ATCC</text>
<text x="259.5" y="765.5" font-size="20.7" text-anchor="end" fill="#111" transform="rotate(-45 259.5 765.5)">PBS</text>
<text x="1.0" y="435.0" font-size="21" text-anchor="start" fill="#111" >B</text>
<line x1="495.5" y1="488.2" x2="495.5" y2="748.9" stroke="#3c3c3c" stroke-width="1.6"/>
<line x1="494.8" y1="748.1" x2="668.0" y2="748.1" stroke="#3c3c3c" stroke-width="1.6"/>
<line x1="495.5" y1="748.1" x2="503.5" y2="748.1" stroke="#3c3c3c" stroke-width="1.6"/>
<text x="489.0" y="755.1" font-size="20.5" text-anchor="end" fill="#111" >0</text>
<line x1="495.5" y1="661.5" x2="503.5" y2="661.5" stroke="#3c3c3c" stroke-width="1.6"/>
<text x="489.0" y="668.5" font-size="20.5" text-anchor="end" fill="#111" >5</text>
<line x1="495.5" y1="574.8" x2="503.5" y2="574.8" stroke="#3c3c3c" stroke-width="1.6"/>
<text x="489.0" y="581.8" font-size="20.5" text-anchor="end" fill="#111" >10</text>
<line x1="495.5" y1="488.2" x2="503.5" y2="488.2" stroke="#3c3c3c" stroke-width="1.6"/>
<text x="489.0" y="495.2" font-size="20.5" text-anchor="end" fill="#111" >15</text>
<text x="462.5" y="619.0" font-size="20.7" text-anchor="middle" fill="#111" transform="rotate(-90 462.5 619)">Relative mRNA expression of TNF-α</text>
<rect x="514.8" y="673.2" width="30.6" height="74.9" fill="none" stroke="#d83a3a" stroke-width="1.3"/>
<line x1="530.1" y1="611.1" x2="530.1" y2="732.1" stroke="#d83a3a" stroke-width="1.3"/>
<line x1="521.2" y1="611.1" x2="539.0" y2="611.1" stroke="#d83a3a" stroke-width="1.5"/>
<line x1="521.2" y1="732.1" x2="539.0" y2="732.1" stroke="#d83a3a" stroke-width="1.5"/>
<rect x="566.5" y="681.5" width="31.1" height="66.6" fill="none" stroke="#5aa0e0" stroke-width="1.3"/>
<line x1="582.0" y1="617.5" x2="582.0" y2="741.2" stroke="#5aa0e0" stroke-width="1.3"/>
<line x1="573.0" y1="617.5" x2="591.0" y2="617.5" stroke="#5aa0e0" stroke-width="1.5"/>
<line x1="573.0" y1="741.2" x2="591.0" y2="741.2" stroke="#5aa0e0" stroke-width="1.5"/>
<rect x="618.3" y="734.8" width="31.1" height="13.3" fill="none" stroke="#111" stroke-width="1.3"/>
<line x1="633.8" y1="734.8" x2="633.8" y2="734.8" stroke="#111" stroke-width="1.3"/>
<line x1="633.8" y1="734.8" x2="633.8" y2="734.8" stroke="#111" stroke-width="1.5"/>
<line x1="633.8" y1="734.8" x2="633.8" y2="734.8" stroke="#111" stroke-width="1.5"/>
<circle cx="530.4" cy="572.9" r="4.4" fill="#e5101a"/>
<circle cx="530.4" cy="610.5" r="4.4" fill="#e5101a"/>
<circle cx="530.4" cy="619.2" r="4.4" fill="#e5101a"/>
<circle cx="522.5" cy="700.7" r="4.4" fill="#e5101a"/>
<circle cx="522.5" cy="709.6" r="4.4" fill="#e5101a"/>
<circle cx="537.9" cy="703.0" r="4.4" fill="#e5101a"/>
<circle cx="537.9" cy="725.2" r="4.4" fill="#e5101a"/>
<circle cx="522.5" cy="730.4" r="4.4" fill="#e5101a"/>
<rect x="578.2" y="557.1" width="8" height="8" fill="#4a9be8"/>
<rect x="578.2" y="582.7" width="8" height="8" fill="#4a9be8"/>
<rect x="578.2" y="652.0" width="8" height="8" fill="#4a9be8"/>
<rect x="578.2" y="660.6" width="8" height="8" fill="#4a9be8"/>
<rect x="578.3" y="702.4" width="8" height="8" fill="#4a9be8"/>
<rect x="578.3" y="711.8" width="8" height="8" fill="#4a9be8"/>
<rect x="564.7" y="716.0" width="8" height="8" fill="#4a9be8"/>
<rect x="591.6" y="716.0" width="8" height="8" fill="#4a9be8"/>
<rect x="578.3" y="724.5" width="8" height="8" fill="#4a9be8"/>
<rect x="578.3" y="732.6" width="8" height="8" fill="#4a9be8"/>
<polygon points="620.6,730.1 625.2,737.9 616.0,737.9" fill="#111"/>
<polygon points="627.2,724.9 631.8,732.7 622.6,732.7" fill="#111"/>
<polygon points="633.9,721.9 638.5,729.7 629.3,729.7" fill="#111"/>
<polygon points="640.6,724.9 645.2,732.7 636.0,732.7" fill="#111"/>
<polygon points="647.2,721.9 651.8,729.7 642.6,729.7" fill="#111"/>
<polygon points="633.9,730.8 638.5,738.6 629.3,738.6" fill="#111"/>
<polygon points="647.2,730.8 651.8,738.6 642.6,738.6" fill="#111"/>
<polyline points="530.2,490.0 530.2,474.9 634.0,474.9 634.0,490.0" fill="none" stroke="#2c2c2c" stroke-width="1.6"/>
<text x="579.3" y="475.5" font-size="21.5" text-anchor="middle" fill="#111" >*</text>
<polyline points="530.2,545.6 530.2,529.6 577.3,529.6 577.3,545.6" fill="none" stroke="#2c2c2c" stroke-width="1.6"/>
<text x="554.8" y="521.5" font-size="20.5" text-anchor="middle" fill="#111" >ns</text>
<polyline points="587.0,545.6 587.0,529.6 634.0,529.6 634.0,710.4" fill="none" stroke="#2c2c2c" stroke-width="1.6"/>
<text x="610.8" y="528.5" font-size="21.5" text-anchor="middle" fill="#111" >*</text>
<text x="539.5" y="761.5" font-size="20.7" text-anchor="end" fill="#111" transform="rotate(-45 539.5 761.5)">Fn-9</text>
<text x="591.5" y="761.5" font-size="20.7" text-anchor="end" fill="#111" transform="rotate(-45 591.5 761.5)">Fn-ATCC</text>
<text x="644.0" y="761.5" font-size="20.7" text-anchor="end" fill="#111" transform="rotate(-45 644.0 761.5)">PBS</text>
<text x="395.5" y="435.5" font-size="21" text-anchor="start" fill="#111" >C</text>
<line x1="846.4" y1="508.6" x2="846.4" y2="755.0" stroke="#3c3c3c" stroke-width="1.6"/>
<line x1="845.6" y1="754.3" x2="1012.5" y2="754.3" stroke="#3c3c3c" stroke-width="1.6"/>
<line x1="846.4" y1="754.3" x2="854.4" y2="754.3" stroke="#3c3c3c" stroke-width="1.6"/>
<text x="840.0" y="761.3" font-size="20.5" text-anchor="end" fill="#111" >0</text>
<line x1="846.4" y1="705.2" x2="854.4" y2="705.2" stroke="#3c3c3c" stroke-width="1.6"/>
<text x="840.0" y="712.2" font-size="20.5" text-anchor="end" fill="#111" >2</text>
<line x1="846.4" y1="656.0" x2="854.4" y2="656.0" stroke="#3c3c3c" stroke-width="1.6"/>
<text x="840.0" y="663.0" font-size="20.5" text-anchor="end" fill="#111" >4</text>
<line x1="846.4" y1="606.9" x2="854.4" y2="606.9" stroke="#3c3c3c" stroke-width="1.6"/>
<text x="840.0" y="613.9" font-size="20.5" text-anchor="end" fill="#111" >6</text>
<line x1="846.4" y1="557.7" x2="854.4" y2="557.7" stroke="#3c3c3c" stroke-width="1.6"/>
<text x="840.0" y="564.7" font-size="20.5" text-anchor="end" fill="#111" >8</text>
<line x1="846.4" y1="508.6" x2="854.4" y2="508.6" stroke="#3c3c3c" stroke-width="1.6"/>
<text x="840.0" y="515.6" font-size="20.5" text-anchor="end" fill="#111" >10</text>
<text x="811.0" y="632.5" font-size="20.7" text-anchor="middle" fill="#111" transform="rotate(-90 811 632.5)">Relative mRNA expression of IL-6</text>
<rect x="864.6" y="683.4" width="29.2" height="70.9" fill="none" stroke="#d4585c" stroke-width="1.3"/>
<line x1="879.2" y1="608.2" x2="879.2" y2="754.3" stroke="#d4585c" stroke-width="1.3"/>
<line x1="870.2" y1="608.2" x2="888.2" y2="608.2" stroke="#d4585c" stroke-width="1.5"/>
<line x1="870.2" y1="754.3" x2="888.2" y2="754.3" stroke="#d4585c" stroke-width="1.5"/>
<rect x="913.5" y="725.9" width="29.2" height="28.4" fill="none" stroke="#5aa0e0" stroke-width="1.3"/>
<line x1="928.1" y1="703.4" x2="928.1" y2="744.4" stroke="#5aa0e0" stroke-width="1.3"/>
<line x1="920.1" y1="703.4" x2="936.1" y2="703.4" stroke="#5aa0e0" stroke-width="1.5"/>
<line x1="920.1" y1="744.4" x2="936.1" y2="744.4" stroke="#5aa0e0" stroke-width="1.5"/>
<rect x="962.9" y="727.4" width="29.6" height="26.9" fill="none" stroke="#111" stroke-width="1.3"/>
<line x1="977.7" y1="711.1" x2="977.7" y2="740.3" stroke="#111" stroke-width="1.3"/>
<line x1="969.2" y1="711.1" x2="986.2" y2="711.1" stroke="#111" stroke-width="1.5"/>
<line x1="969.2" y1="740.3" x2="986.2" y2="740.3" stroke="#111" stroke-width="1.5"/>
<circle cx="879.0" cy="527.8" r="4.4" fill="#e63c42"/>
<circle cx="879.0" cy="615.1" r="4.4" fill="#e63c42"/>
<circle cx="879.0" cy="686.7" r="4.4" fill="#e63c42"/>
<circle cx="879.0" cy="707.7" r="4.4" fill="#e63c42"/>
<circle cx="886.4" cy="720.7" r="4.4" fill="#e63c42"/>
<circle cx="871.6" cy="727.4" r="4.4" fill="#e63c42"/>
<circle cx="886.4" cy="731.9" r="4.4" fill="#e63c42"/>
<circle cx="871.6" cy="737.3" r="4.4" fill="#e63c42"/>
<rect x="924.0" y="670.8" width="8" height="8" fill="#4a9be8"/>
<rect x="911.7" y="715.3" width="8" height="8" fill="#4a9be8"/>
<rect x="911.7" y="724.9" width="8" height="8" fill="#4a9be8"/>
<rect x="924.0" y="714.1" width="8" height="8" fill="#4a9be8"/>
<rect x="924.0" y="732.7" width="8" height="8" fill="#4a9be8"/>
<rect x="936.9" y="709.3" width="8" height="8" fill="#4a9be8"/>
<rect x="936.9" y="719.7" width="8" height="8" fill="#4a9be8"/>
<rect x="936.9" y="729.3" width="8" height="8" fill="#4a9be8"/>
<rect x="936.9" y="736.7" width="8" height="8" fill="#4a9be8"/>
<rect x="911.7" y="744.6" width="8" height="8" fill="#4a9be8"/>
<polygon points="964.6,708.2 969.2,716.0 960.0,716.0" fill="#111"/>
<polygon points="990.1,705.2 994.7,713.0 985.5,713.0" fill="#111"/>
<polygon points="977.7,716.3 982.3,724.1 973.1,724.1" fill="#111"/>
<polygon points="990.1,715.6 994.7,723.4 985.5,723.4" fill="#111"/>
<polygon points="977.7,726.7 982.3,734.5 973.1,734.5" fill="#111"/>
<polygon points="971.3,742.3 975.9,750.1 966.7,750.1" fill="#111"/>
<polygon points="983.9,740.0 988.5,747.8 979.3,747.8" fill="#111"/>
<polyline points="878.9,472.0 878.9,458.2 977.3,458.2 977.3,472.0" fill="none" stroke="#2c2c2c" stroke-width="1.6"/>
<text x="927.8" y="450.0" font-size="20.5" text-anchor="middle" fill="#111" >ns</text>
<polyline points="878.9,513.3 878.9,499.3 922.9,499.3 922.9,660.4" fill="none" stroke="#2c2c2c" stroke-width="1.6"/>
<text x="901.8" y="491.0" font-size="20.5" text-anchor="middle" fill="#111" >ns</text>
<polyline points="932.9,660.4 932.9,499.3 977.3,499.3 977.3,694.8" fill="none" stroke="#2c2c2c" stroke-width="1.6"/>
<text x="955.6" y="491.0" font-size="20.5" text-anchor="middle" fill="#111" >ns</text>
<text x="887.5" y="769.0" font-size="20.7" text-anchor="end" fill="#111" transform="rotate(-45 887.5 769.0)">Fn-9</text>
<text x="936.5" y="768.0" font-size="20.7" text-anchor="end" fill="#111" transform="rotate(-45 936.5 768.0)">Fn-ATCC</text>
<text x="985.5" y="769.0" font-size="20.7" text-anchor="end" fill="#111" transform="rotate(-45 985.5 769.0)">PBS</text>
<text x="743.5" y="435.0" font-size="21" text-anchor="start" fill="#111" >D</text>
<text x="200.7" y="30.6" font-size="21" text-anchor="middle" fill="#111" >Fn-ATCC</text>
<text x="555.0" y="30.6" font-size="21" text-anchor="middle" fill="#111" >Fn-9</text>
<text x="909.0" y="30.6" font-size="21" text-anchor="middle" fill="#111" >PBS</text>
<text x="0.3" y="16.5" font-size="21" text-anchor="start" fill="#111" >A</text>
<text x="40.5" y="69.6" font-size="21" text-anchor="start" fill="#111" >500 μm</text>
<line x1="66.0" y1="50.0" x2="78.5" y2="50.0" stroke="#222" stroke-width="1.8"/>
<text x="398.7" y="68.5" font-size="21" text-anchor="start" fill="#111" >500 μm</text>
<line x1="426.0" y1="49.0" x2="438.5" y2="49.0" stroke="#222" stroke-width="1.8"/>
<text x="747.2" y="67.5" font-size="21" text-anchor="start" fill="#111" >500 μm</text>
<line x1="775.0" y1="46.5" x2="787.5" y2="46.5" stroke="#222" stroke-width="1.8"/>
<text x="371.0" y="210.6" font-size="21" text-anchor="end" fill="#111" >20×</text>
<text x="716.0" y="210.6" font-size="21" text-anchor="end" fill="#111" >20×</text>
<text x="1076.0" y="210.6" font-size="21" text-anchor="end" fill="#111" >20×</text>
<text x="369" y="388.3" font-size="21" text-anchor="end" fill="#e6d2f0" stroke="none" stroke-width="0" >200×</text>
<text x="712" y="388.3" font-size="21" text-anchor="end" fill="#151515" stroke="#ffffff" stroke-width="0" >200×</text>
<text x="1075" y="388.3" font-size="21" text-anchor="end" fill="#151515" stroke="#ffffff" stroke-width="0" >200×</text>
<text x="43.5" y="239.5" font-size="21" text-anchor="start" fill="#f0e8f4" >50 μm</text>
<line x1="64.0" y1="222.8" x2="76.8" y2="222.8" stroke="#111" stroke-width="2.6"/>
<text x="399.0" y="239.5" font-size="21" text-anchor="start" fill="#151515" >50 μm</text>
<line x1="421.0" y1="221.6" x2="433.8" y2="221.6" stroke="#111" stroke-width="2.6"/>
<text x="747.0" y="239.5" font-size="21" text-anchor="start" fill="#151515" >50 μm</text>
<line x1="769.2" y1="221.1" x2="782.0" y2="221.1" stroke="#111" stroke-width="2.6"/>
<text x="35.5" y="208.0" font-size="4.5" text-anchor="start" fill="#555" >500 μm</text>
<text x="395.5" y="208.0" font-size="4.5" text-anchor="start" fill="#555" >500 μm</text>
<text x="741.5" y="208.0" font-size="4.5" text-anchor="start" fill="#555" >500 μm</text>
</svg></body></html>
